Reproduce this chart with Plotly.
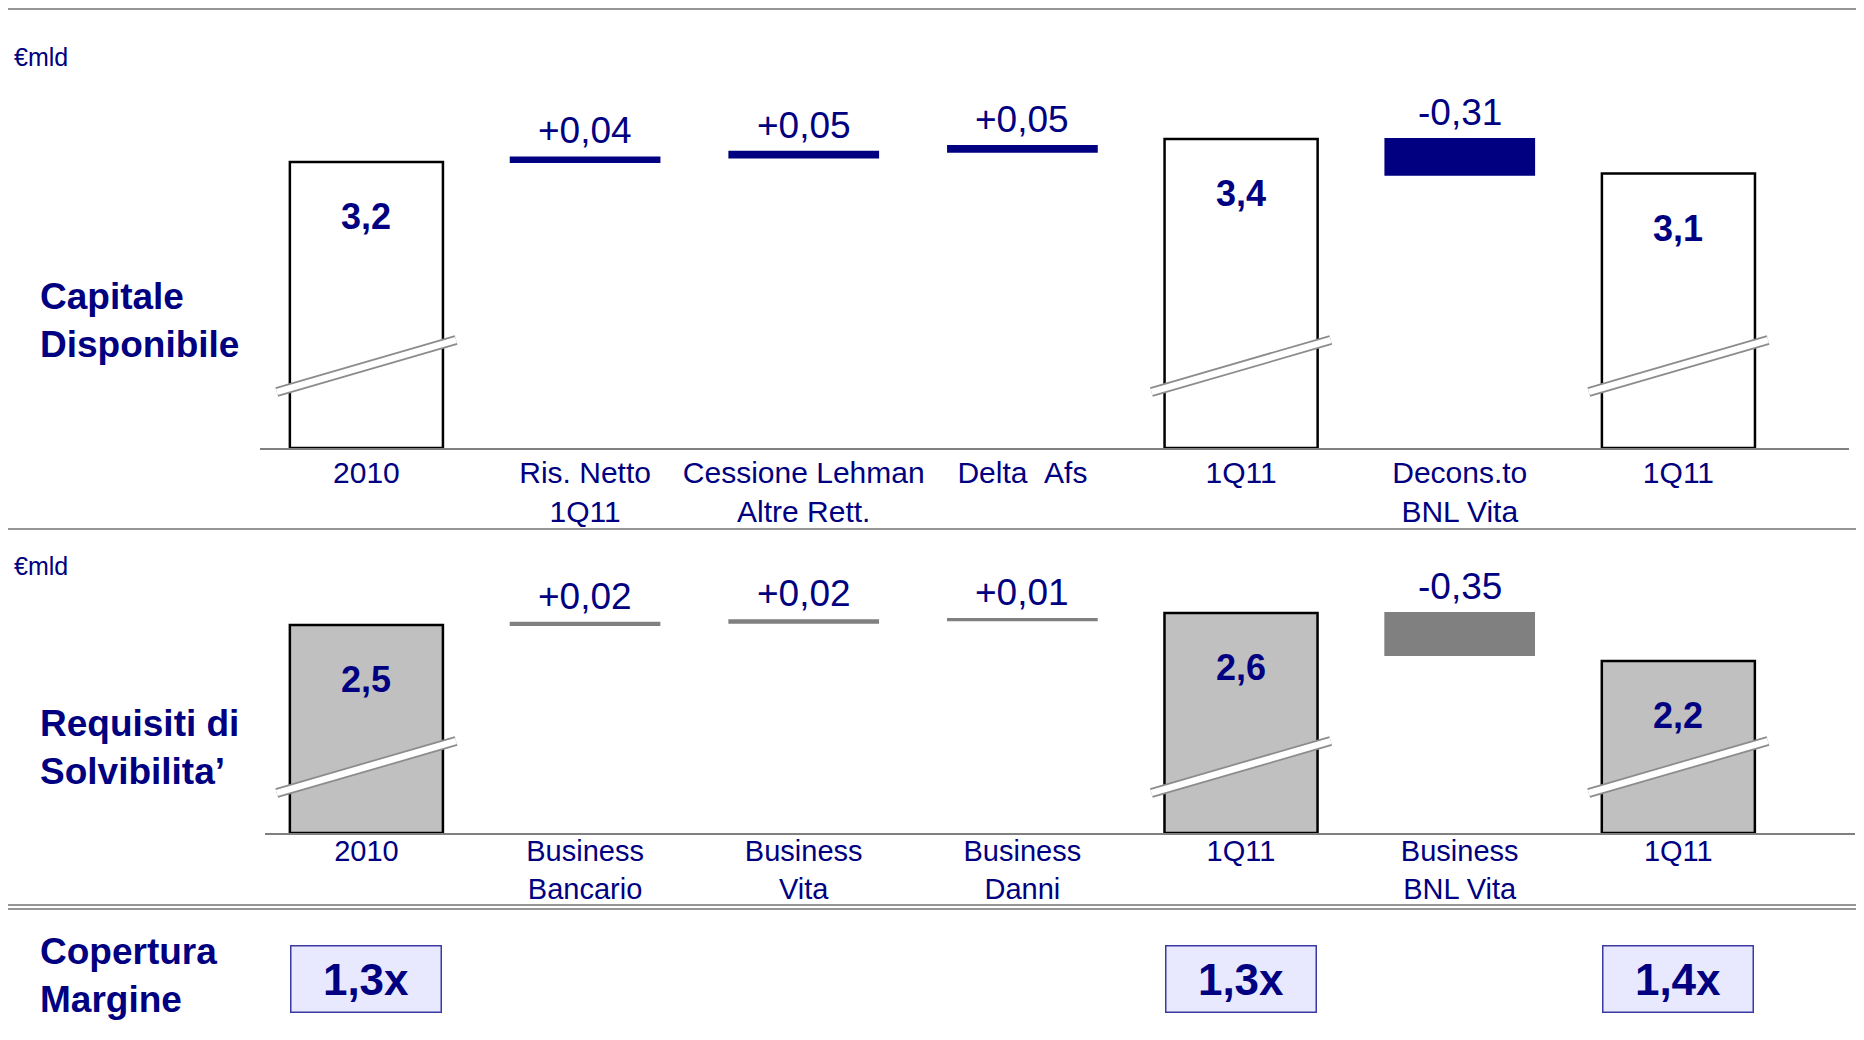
import plotly.graph_objects as go

# --- data -------------------------------------------------------------
# Capitale Disponibile (€mld)
cap_labels = ["2010", "Ris. Netto<br>1Q11", "Cessione Lehman<br>Altre Rett.",
              "Delta\u00a0\u00a0Afs", "1Q11", "Decons.to<br>BNL Vita", "1Q11"]
cap_values = [3.2, 0.04, 0.05, 0.05, 3.4, -0.31, 3.1]
cap_kind = ["total", "delta", "delta", "delta", "total", "delta", "total"]

# Requisiti di Solvibilita' (€mld)
req_labels = ["2010", "Business<br>Bancario", "Business<br>Vita", "Business<br>Danni",
              "1Q11", "Business<br>BNL Vita", "1Q11"]
req_values = [2.5, 0.02, 0.02, 0.01, 2.6, -0.35, 2.2]
req_kind = ["total", "delta", "delta", "delta", "total", "delta", "total"]

# Copertura Margine, one per total column
coverage = [1.3, 1.3, 1.4]

# --- style ------------------------------------------------------------
# the page body keeps its 8px margin, so the figure is drawn 8px in
OFF = 8
W, H = 1864 - 2 * OFF, 1040 - 2 * OFF
NAVY = "#000080"
GREY_LINE = "#969696"
FONT = "Liberation Sans, Arial, sans-serif"


def py(s):
    # screen row -> paper y
    return 1 - (s - OFF) / H


def px(s):
    # screen column -> paper x
    return (s - OFF) / W


def fmt(v, sign=False, dec=2):
    s = f"{v:+.{dec}f}" if sign else f"{v:.{dec}f}"
    return s.replace(".", ",")


fig = go.Figure()
annotations = []
shapes = []


def add_panel(labels, values, kind, xref, yref, floor, total_fill, delta_color, break_y):
    """Waterfall with a broken axis: totals start from the axis floor."""
    tot_x, tot_y = [], []
    d_x, d_y, d_base = [], [], []
    level = None
    for i, (v, k) in enumerate(zip(values, kind)):
        if k == "total":
            tot_x.append(i)
            tot_y.append(v)
            level = v
        else:
            d_x.append(i)
            d_y.append(v)
            d_base.append(level)
            level = level + v

    fig.add_trace(go.Bar(
        x=tot_x, y=[v - floor for v in tot_y], base=floor, width=0.7,
        marker=dict(color=total_fill, line=dict(color="black", width=2.5)),
        xaxis=xref, yaxis=yref, cliponaxis=False, hoverinfo="skip"))
    fig.add_trace(go.Bar(
        x=d_x, y=d_y, base=d_base, width=0.68,
        marker=dict(color=delta_color, line=dict(color=delta_color, width=2)),
        xaxis=xref, yaxis=yref, cliponaxis=False, hoverinfo="skip"))

    # value labels
    for x, v in zip(tot_x, tot_y):
        annotations.append(dict(
            x=x, y=v, xref=xref, yref=yref, text="<b>" + fmt(v, dec=1) + "</b>",
            showarrow=False, yanchor="top", yshift=-32,
            font=dict(size=36, color=NAVY, family=FONT)))
    for x, v, b in zip(d_x, d_y, d_base):
        annotations.append(dict(
            x=x, y=max(b, b + v), xref=xref, yref=yref, text=fmt(v, sign=True),
            showarrow=False, yanchor="bottom", yshift=4,
            font=dict(size=37, color=NAVY, family=FONT)))

    # axis-break marks across the total bars
    for x in tot_x:
        for col, w in (("#8c8c8c", 10), ("white", 6.5)):
            shapes.append(dict(
                type="line", xref=xref, yref="paper", layer="above",
                x0=x - 0.41, x1=x + 0.41, y0=break_y - 26 / H, y1=break_y + 26 / H,
                line=dict(color=col, width=w)))
    return tot_x


# Capitale Disponibile: baseline at 448px, 115px per unit
floor1 = 0.713
tot_idx = add_panel(cap_labels, cap_values, cap_kind, "x", "y", floor1,
                    "white", NAVY, py(366))
# Requisiti: baseline at 833px, 120px per unit
floor2 = 0.767
add_panel(req_labels, req_values, req_kind, "x2", "y2", floor2,
          "#c0c0c0", "#808080", py(767))

x_common = dict(showgrid=False, zeroline=False, showline=True, linecolor="#808080",
                linewidth=2, ticks="", tickmode="array", tickvals=list(range(7)),
                layer="below traces", fixedrange=True)

fig.update_layout(
    xaxis=dict(x_common, domain=[px(260), px(1849)], range=[-0.4866, 6.780],
               ticktext=cap_labels, anchor="y", ticklabelstandoff=-3,
               tickfont=dict(size=30, color=NAVY, family=FONT)),
    yaxis=dict(domain=[py(448), py(60)], range=[floor1, floor1 + 388 / 115],
               visible=False, anchor="x"),
    xaxis2=dict(x_common, domain=[px(265), px(1855)], range=[-0.4637, 6.808],
                ticktext=req_labels, anchor="y2", ticklabelstandoff=-9,
                tickfont=dict(size=29, color=NAVY, family=FONT)),
    yaxis2=dict(domain=[py(833), py(560)], range=[floor2, floor2 + 273 / 120],
                visible=False, anchor="x2"),
)

# row titles and units
side_font = dict(size=37, color=NAVY, family=FONT)
for txt, yc in (("<b>Capitale<br>Disponibile</b>", 320),
                ("<b>Requisiti di<br>Solvibilita’</b>", 747),
                ("<b>Copertura<br>Margine</b>", 975)):
    annotations.append(dict(x=px(38), y=py(yc), xref="paper", yref="paper", text=txt,
                            showarrow=False, xanchor="left", yanchor="middle",
                            align="left", font=side_font))
for yc in (57, 566):
    annotations.append(dict(x=px(12), y=py(yc), xref="paper", yref="paper", text="€mld",
                            showarrow=False, xanchor="left", yanchor="middle",
                            font=dict(size=25, color=NAVY, family=FONT)))

# coverage boxes under the total columns
for x, c in zip(tot_idx, coverage):
    annotations.append(dict(
        x=x, y=py(979), xref="x2", yref="paper", text="<b>" + fmt(c, dec=1) + "x</b>",
        showarrow=False, xanchor="center", yanchor="middle",
        width=149, height=65, borderpad=0,
        bgcolor="#e8e8ff", bordercolor="#3a3aa0", borderwidth=1.5,
        font=dict(size=44, color=NAVY, family=FONT)))

# separator lines
for yl in (9, 529, 905, 909):
    shapes.append(dict(type="line", xref="paper", yref="paper", x0=0, x1=1,
                       y0=py(yl), y1=py(yl), line=dict(color=GREY_LINE, width=2)))

fig.update_layout(
    width=W, height=H, margin=dict(l=0, r=0, t=0, b=0),
    paper_bgcolor="white", plot_bgcolor="white", showlegend=False,
    barmode="overlay", font=dict(family=FONT, color=NAVY),
    annotations=annotations, shapes=shapes,
)

fig.write_html("out.html")
